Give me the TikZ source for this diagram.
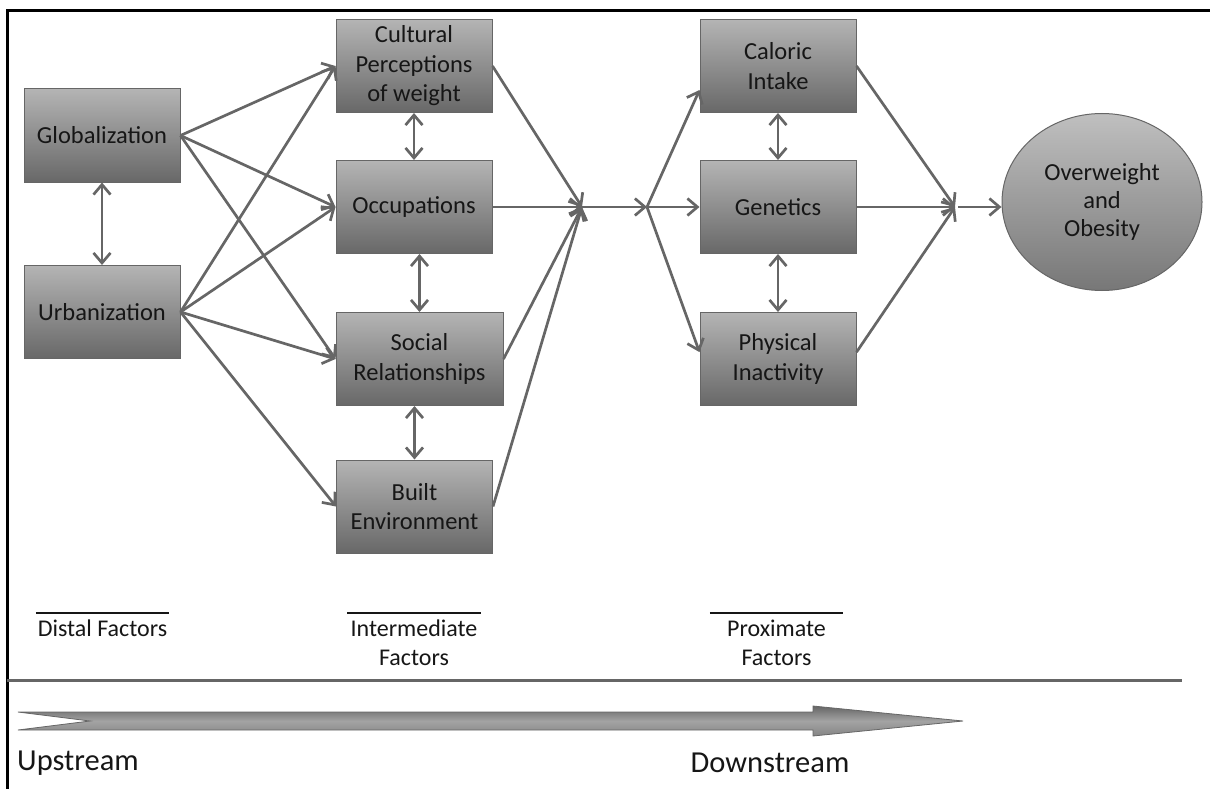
\documentclass[tikz,border=0pt]{standalone}
\usepackage{fontspec}
\setmainfont{Carlito}
\usetikzlibrary{arrows.meta,shapes.geometric}
\definecolor{boxtop}{RGB}{180,180,180}
\definecolor{boxbot}{RGB}{104,104,104}
\definecolor{linegray}{RGB}{102,102,102}
\definecolor{txt}{RGB}{22,22,22}
\begin{document}
\begin{tikzpicture}[x=1pt,y=-1pt,
  factor/.style={draw=linegray,line width=1pt,top color=boxtop,bottom color=boxbot,
    minimum width=156pt,minimum height=93pt,inner sep=0pt,align=center,
    text=txt,font=\fontsize{24.5}{29.5}\selectfont},
  link/.style={draw=linegray,line width=2.7pt,-{Straight Barb[length=10pt,width=17pt]}},
  both/.style={link,{Straight Barb[length=10pt,width=17pt]}-{Straight Barb[length=10pt,width=17pt]}},
  level/.style={anchor=north,minimum width=133pt,align=center,inner sep=0pt,
    text=txt,font=\fontsize{24}{29}\selectfont}]
  \useasboundingbox (0,0) rectangle (1210,789);
  \draw[line width=3pt] (7,789) -- (7,11) -- (1210,11);

  % distal
  \node[factor] (glob) at (102,135.5) {Globalization};
  \node[factor] (urb) at (102,312) {Urbanization};
  % intermediate
  \node[factor] (cult) at (414,66) {Cultural\\Perceptions\\of weight};
  \node[factor] (occ) at (414,207) {Occupations};
  \node[factor,minimum width=167pt] (soc) at (419.5,359) {Social\\Relationships};
  \node[factor] (built) at (414.5,506.5) {Built\\Environment};
  % proximate
  \node[factor] (cal) at (778,66) {Caloric\\Intake};
  \node[factor] (gen) at (778,207) {Genetics};
  \node[factor] (phys) at (778,359) {Physical\\Inactivity};
  \node[ellipse,draw=linegray,line width=1pt,top color=boxtop!85!white,bottom color=boxbot!90!white,
    minimum width=200pt,minimum height=177pt,inner sep=0pt,align=center,text=txt,
    font=\fontsize{24.5}{28}\selectfont] (obes) at (1102,202) {Overweight\\and\\Obesity};

  \coordinate (j1) at (582,207);
  \coordinate (j2) at (647,207);
  \coordinate (j3) at (955,207);
  \coordinate (j4) at (958,207);

  \draw[both] (glob) -- (urb);
  \draw[both] (cult) -- (occ);
  \draw[both] (soc.north |- occ.south) -- (soc.north);
  \draw[both] (built.north |- soc.south) -- (built.north);
  \draw[both] (cal) -- (gen);
  \draw[both] (gen) -- (phys);

  \foreach \to in {cult,occ,soc}
    \draw[link] (glob.east) -- (\to.west);
  \foreach \to in {cult,occ,soc,built}
    \draw[link] (urb.east) -- (\to.west);
  \foreach \from in {cult,occ,soc,built}
    \draw[link] (\from.east) -- (j1);
  \draw[link] (j1) -- (j2);
  \draw[link] (j2) -- (cal.197);
  \draw[link] (j2) -- (gen.west);
  \draw[link] (j2) -- (phys.175);
  \draw[link] (cal.east) -- (j3);
  \draw[link] (gen.east) -- (j3);
  \draw[link] (phys.5) -- (j3);
  \draw[link] (j4) -- (obes.west |- j4);

  % levels
  \node[level] (dist) at (102.5,620) {Distal Factors};
  \node[level] (inter) at (414,620) {Intermediate\\Factors};
  \node[level] (prox) at (776.5,620) {Proximate\\Factors};
  \foreach \lv in {dist,inter,prox}
    \draw[line width=1.5pt,txt] ([yshift=7pt]\lv.north west) -- ([yshift=7pt]\lv.north east);

  \draw[linegray,line width=3pt] (7,680) -- (1182,680);
  \draw[draw=linegray,line width=0.8pt,top color=linegray,bottom color=linegray!80!white,middle color=linegray!60!white]
    (18,712) -- (90,721) -- (18,730) -- (813,730) -- (813,736) -- (963,721)
    -- (813,706) -- (813,712) -- cycle;
  \node[anchor=west,inner sep=0pt,text=txt,font=\fontsize{30.5}{36}\selectfont] (up) at (17,763) {Upstream};
  \node[inner sep=0pt,text=txt,font=\fontsize{30.5}{36}\selectfont] (down) at (770,763) {Downstream};
\end{tikzpicture}
\end{document}
